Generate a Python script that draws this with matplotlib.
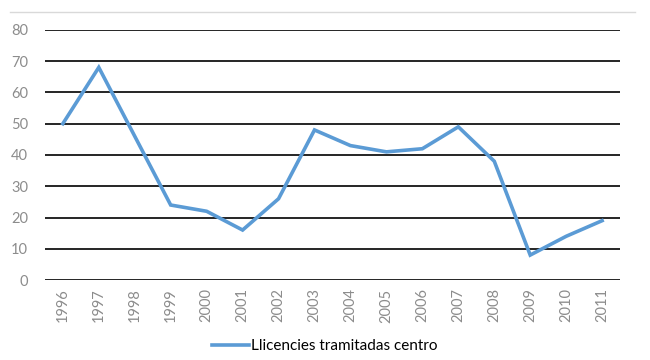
import matplotlib.pyplot as plt
from matplotlib.lines import Line2D

# Data
years = [str(y) for y in range(1996, 2012)]
llicencies = [50, 68, 46, 24, 22, 16, 26, 48, 43, 41, 42, 49, 38, 8, 14, 19]

plt.rcParams['font.family'] = ['Lato', 'DejaVu Sans']

fig = plt.figure(figsize=(6.5, 3.6), dpi=100)
ax = fig.add_axes([0.069, 0.222, 0.885, 0.695])

x = range(len(years))
ax.plot(x, llicencies, color='#5B9BD5', linewidth=2.6, solid_joinstyle='miter',
        label='Llicencies tramitadas centro')

ax.set_xlim(-0.5, len(years) - 0.5)
ax.set_ylim(0, 80)
ax.set_yticks(range(0, 81, 10))
ax.set_xticks(list(x))
ax.set_xticklabels(years, rotation=90)
ax.tick_params(axis='both', length=0, colors='#8c8c8c', labelsize=10.5)
ax.tick_params(axis='y', pad=12)
ax.tick_params(axis='x', pad=6)

ax.grid(axis='y', color='black', linewidth=1.2)
ax.set_axisbelow(True)
for s in ax.spines.values():
    s.set_visible(False)

# thin frame line at the top of the picture
fig.add_artist(Line2D([0.015, 0.977], [0.966, 0.966], color='#d9d9d9', linewidth=1))

fig.legend(loc='lower center', bbox_to_anchor=(0.5, -0.02), frameon=False,
           fontsize=11, handlelength=2.4, handletextpad=0.15)

fig.savefig('out.png', dpi=100)
plt.close(fig)
